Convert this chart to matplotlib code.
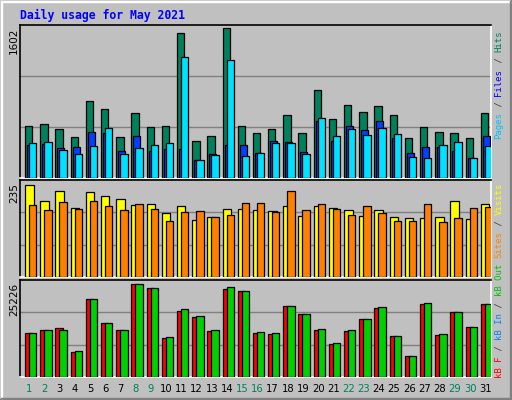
import matplotlib
matplotlib.use("Agg")
import matplotlib.pyplot as plt
from matplotlib.lines import Line2D

days = list(range(1, 32))
weekend = [1, 2, 8, 9, 15, 16, 22, 23, 29, 30]
hits = [558,580,525,439,819,732,439,689,547,558,1547,395,449,1602,558,482,525,678,482,939,634,776,710,765,678,428,547,493,482,428,689]
files = [352,362,319,330,493,482,286,449,286,308,308,188,254,352,352,265,395,384,275,612,395,558,515,612,428,265,330,330,286,210,449]
pages = [373,384,297,254,341,536,254,319,352,373,1297,188,243,1265,232,265,373,373,254,645,449,525,460,536,471,221,210,352,384,210,341]
visits = [235,194,220,176,217,207,199,184,186,163,181,146,153,174,174,171,169,181,156,181,176,171,156,171,153,151,151,153,194,148,186]
sites = [184,171,192,174,194,181,171,186,174,143,166,169,153,158,189,189,166,220,171,186,174,158,181,163,143,143,186,140,151,176,179]
kbf = [10975,11741,12252,6126,19398,13528,11741,23226,22206,9699,16335,15059,11486,21951,21440,10975,10720,17612,15570,11741,8168,11486,14549,17101,10210,5105,18122,10465,16080,12507,18122]
kbin = [10975,11741,11741,6381,19398,13528,11741,23226,22206,9954,16846,15314,11741,22461,21440,11231,10975,17612,15570,11996,8423,11741,14549,17356,10210,5105,18377,10720,16080,12507,18122]

W, H = 512, 400
fig = plt.figure(figsize=(W/100, H/100), dpi=100)
fig.patch.set_facecolor("#C0C0C0")

def fx(x): return x / W
def fy(y): return 1 - y / H

# outer 3D border
for (x0,y0,x1,y1,c) in [(0.5,0.5,511.5,0.5,"white"),(0.5,0.5,0.5,399.5,"white"),
                        (511,0,511,400,"#808080"),(0,399,512,399,"#808080"),
                        (1.5,1.5,510,1.5,"white"),(1.5,1.5,1.5,398,"white"),
                        (510,1,510,399,"#808080"),(1,398,511,398,"#808080")]:
    fig.add_artist(Line2D([fx(x0),fx(x1)],[fy(y0),fy(y1)],color=c,lw=1,transform=fig.transFigure))

mono = "DejaVu Sans Mono"
fig.text(fx(20), fy(15), "Daily usage for May 2021", color="#0000FF", fontsize=8.3,
         fontweight="bold", family=mono, va="center", ha="left")

xl, xr = 20, 491
slot = (xr - xl) / 31.0

def make_ax(top, bot, vmax, label):
    ax = fig.add_axes([fx(xl), fy(bot), fx(xr) - fx(xl), fy(top) - fy(bot)])
    ax.set_facecolor("#C0C0C0")
    ax.set_xlim(0, 31)
    ax.set_ylim(0, vmax)
    ax.set_xticks([]); ax.set_yticks([])
    for s in ["left", "top"]:
        ax.spines[s].set_color("black")
    for s in ["right", "bottom"]:
        ax.spines[s].set_color("white")
    for sp in ax.spines.values():
        sp.set_linewidth(1.2)
    fig.text(fx(14), fy(top + 3), label, rotation=90, fontsize=7.5, va="top", ha="center", color="black")
    return ax

def bars(ax, vals, off, w, color, vmax):
    xs = [i + off / slot for i in range(31)]
    ax.bar(xs, vals, width=w / slot, align="edge", color=color, edgecolor="black", linewidth=0.9, zorder=3)

def grid(ax, vmax, fracs):
    for f in fracs:
        ax.axhline(vmax * f, color="#808080", lw=1, zorder=1)

# panel 1
ax1 = make_ax(25, 178, 1602 * 1.02, "1602")
grid(ax1, 1602 * 1.02, [1/3, 2/3])
bars(ax1, hits, 5, 7.4, "#00805C", 0)
bars(ax1, files, 7, 7.0, "#0040FF", 0)
bars(ax1, pages, 9, 7.4, "#00E0FF", 0)

# panel 2
ax2 = make_ax(180, 277, 235 * 1.05, "235")
grid(ax2, 235 * 1.05, [1/3, 2/3])
bars(ax2, visits, 5, 8.5, "#FFFF00", 0)
bars(ax2, sites, 9, 7.4, "#FF8000", 0)

# panel 3
ax3 = make_ax(280, 377, 23226 * 1.04, "25226")
grid(ax3, 23226 * 1.04, [1/3, 2/3])
bars(ax3, kbf, 5, 7.4, "#FF0000", 0)
bars(ax3, kbin, 9, 7.4, "#00D000", 0)

# day labels
for i, d in enumerate(days):
    c = "#00805C" if d in weekend else "black"
    fig.text(fx(xl + (i + 0.62) * slot), fy(389), str(d), color=c, fontsize=7.2, ha="center", va="center")

# right vertical legends
adv = 6.5 * 100 / 72 * 0.602
def vlegend(ybot, pieces):
    y = ybot
    for txt, col in pieces:
        fig.text(fx(499), fy(y), txt, rotation=90, color=col, fontsize=6.5, family=mono,
                 ha="center", va="bottom")
        y -= len(txt) * adv

sep = "#404040"
vlegend(139, [("Pages", "#00C0FF"), (" / ", sep), ("Files", "#0000FF"), (" / ", sep), ("Hits", "#00805C")])
vlegend(258, [("Sites", "#FF8000"), (" / ", sep), ("Visits", "#FFFF00")])
vlegend(378, [("kB F", "#FF0000"), (" / ", sep), ("kB In", "#0080FF"), (" / ", sep), ("kB Out", "#00C000")])

fig.savefig("out.png", dpi=100, facecolor=fig.get_facecolor())
